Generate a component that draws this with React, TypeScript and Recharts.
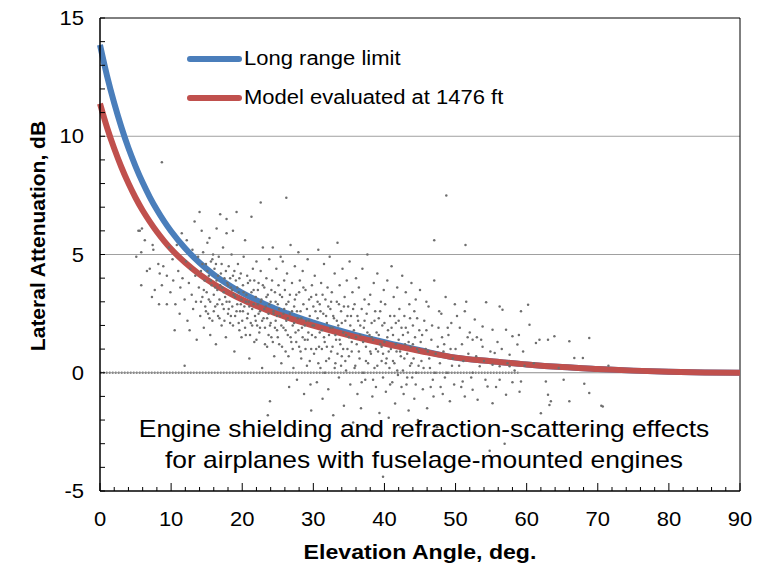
import React from "react";
import { ComposedChart, Line, Scatter, XAxis, YAxis, ReferenceLine } from "recharts";

const FONT = '"Liberation Sans", Arial, Helvetica, sans-serif';

// curves (dB vs elevation angle, deg)
const angles = [0, 1, 2, 3, 4, 5, 6, 7, 8, 9, 10, 12, 14, 16, 18, 20, 22, 24, 26, 28, 30, 33, 36, 40, 45, 50, 55, 60, 65, 70, 75, 80, 85, 90];
const longRangeLimit = [13.86, 12.54, 11.4, 10.39, 9.5, 8.73, 8.04, 7.43, 6.89, 6.41, 5.98, 5.25, 4.65, 4.15, 3.73, 3.38, 3.07, 2.79, 2.55, 2.32, 2.12, 1.84, 1.59, 1.29, 0.95, 0.64, 0.49, 0.35, 0.24, 0.16, 0.09, 0.04, 0.01, 0];
const model1476ft = [11.38, 10.36, 9.48, 8.7, 8.01, 7.4, 6.86, 6.39, 5.96, 5.58, 5.23, 4.65, 4.16, 3.75, 3.4, 3.09, 2.82, 2.59, 2.37, 2.17, 1.99, 1.74, 1.51, 1.23, 0.92, 0.64, 0.49, 0.35, 0.24, 0.16, 0.09, 0.04, 0.01, 0];

// measured points [angle, attenuation], sampled from the cloud
const measured: number[][] = [
  [5.1, 4.9], [5.4, 6.0], [5.6, 6.0], [5.8, 5.1], [5.8, 3.7], [5.9, 6.1], [6.3, 5.6], [6.6, 4.3], [7.0, 4.4], [7.3, 3.2], [7.4, 5.4], [7.5, 5.2], [7.7, 3.5], [8.2, 4.6], [8.3, 2.9], [8.4, 4.2], [8.7, 3.7], [8.7, 8.9], [8.9, 4.5], [9.4, 4.1], [9.4, 2.9], [9.7, 5.3], [9.9, 3.4],
  [10.2, 4.8], [10.3, 3.9], [10.5, 1.8], [10.6, 2.9], [10.8, 5.4], [11.0, 4.3], [11.2, 2.5], [11.3, 3.6], [11.5, 5.9], [11.6, 4.0], [11.9, 0.3], [11.9, 3.1], [12.1, 4.7], [12.2, 5.6], [12.3, 2.2], [12.5, 3.8], [12.6, 1.8], [12.7, 4.4], [12.9, 3.3], [13.0, 5.2], [13.1, 2.7], [13.3, 6.4], [13.4, 4.1], [13.5, 3.0], [13.6, 1.4], [13.8, 4.9], [13.9, 3.6], [14.0, 6.8], [14.1, 2.4], [14.2, 4.3], [14.3, 6.0], [14.4, 3.2], [14.5, 5.1], [14.6, 1.9], [14.7, 3.9], [14.8, 2.8], [14.9, 4.6],
  [15.0, 3.4], [15.1, 5.5], [15.2, 2.5], [15.3, 4.1], [15.4, 5.7], [15.5, 3.0], [15.5, 1.6], [15.6, 4.7], [15.7, 3.7], [15.8, 2.2], [15.9, 5.0], [16.0, 3.3], [16.1, 4.4], [16.2, 2.8], [16.3, 1.2], [16.4, 6.1], [16.4, 3.9], [16.5, 3.5], [16.6, 2.4], [16.7, 4.9], [16.8, 3.1], [16.9, 6.7], [17.0, 4.2], [17.1, 2.0], [17.2, 3.6], [17.3, 5.3], [17.4, 2.7], [17.5, 4.0], [17.6, 3.2], [17.7, 1.5], [17.8, 6.5], [17.8, 5.9], [17.9, 3.8], [18.0, 2.5], [18.1, 4.5], [18.2, 3.0], [18.3, 2.1], [18.4, 3.6], [18.5, 5.0], [18.6, 2.8], [18.7, 6.0], [18.7, 4.1], [18.8, 3.3], [18.9, 0.9], [19.0, 2.4], [19.1, 3.9], [19.2, 6.8], [19.3, 2.9], [19.4, 4.6], [19.5, 3.4], [19.6, 1.8], [19.7, 2.6], [19.8, 4.2], [19.9, 3.1],
  [20.0, 2.2], [20.1, 3.7], [20.2, 4.9], [20.3, 2.8], [20.4, 5.6], [20.5, 1.6], [20.6, 3.3], [20.7, 4.1], [20.8, 2.5], [20.9, 3.0], [21.0, 0.6], [21.1, 3.9], [21.2, 2.1], [21.3, 6.6], [21.4, 2.7], [21.5, 4.4], [21.6, 3.5], [21.7, 1.3], [21.8, 2.4], [21.9, 3.2], [22.0, 4.7], [22.1, 2.0], [22.2, 2.9], [22.3, 3.8], [22.4, 1.7], [22.5, 2.6], [22.6, 7.2], [22.6, 4.3], [22.7, 3.1], [22.8, 0.2], [22.9, 5.3], [23.0, 2.3], [23.1, 3.6], [23.2, 1.9], [23.3, 2.8], [23.4, 4.0], [23.5, 1.1], [23.6, -1.8], [23.6, 3.3], [23.7, 2.5], [23.8, 4.8], [23.9, -1.2], [23.9, 2.0], [24.0, 3.0], [24.1, 1.5], [24.2, 3.9], [24.3, 5.3], [24.4, 2.6], [24.5, 0.7], [24.6, 3.4], [24.7, 2.2], [24.8, 4.4], [24.9, 1.8],
  [25.0, 2.9], [25.1, 3.7], [25.2, 1.2], [25.3, 2.4], [25.4, 4.9], [25.5, 0.4], [25.6, 3.2], [25.7, 4.7], [25.8, 1.9], [25.9, 2.7], [26.0, 3.5], [26.1, 0.9], [26.2, 7.4], [26.2, 2.2], [26.3, 4.2], [26.4, 1.6], [26.5, 3.0], [26.6, -0.6], [26.7, 2.5], [26.8, 5.4], [26.9, 1.3], [27.0, 3.8], [27.1, 2.0], [27.2, 0.2], [27.3, 2.8], [27.4, 4.5], [27.5, 1.7], [27.6, 3.3], [27.7, -0.3], [27.8, 2.3], [27.9, 5.1], [28.0, 1.1], [28.1, 3.9], [28.2, 2.6], [28.3, 0.6], [28.4, 1.9], [28.5, 4.3], [28.6, 2.9], [28.7, -0.9], [28.8, 1.4], [28.9, 3.5], [29.0, 2.2], [29.1, 0.3], [29.2, 4.8], [29.3, 1.7], [29.4, 3.1], [29.5, 2.4], [29.6, -0.5], [29.7, -1.6], [29.7, 1.0], [29.8, 3.7], [29.9, 2.0],
  [30.0, 2.8], [30.1, 0.8], [30.2, 4.1], [30.3, 1.5], [30.4, 3.3], [30.5, -0.4], [30.6, 2.3], [30.7, 5.2], [30.8, 1.1], [30.9, 2.9], [31.0, 0.2], [31.1, 3.8], [31.2, 1.8], [31.3, -1.1], [31.4, 2.5], [31.5, 4.6], [31.6, 1.3], [31.7, 3.1], [31.8, 0.5], [31.9, 2.1], [32.0, 3.6], [32.1, -0.7], [32.2, 1.6], [32.3, 4.9], [32.4, 2.7], [32.5, 0.9], [32.6, 3.4], [32.7, 1.9], [32.8, -1.8], [32.9, 2.3], [33.0, 4.2], [33.1, 0.4], [33.2, 1.4], [33.3, 3.0], [33.4, 5.5], [33.5, 2.0], [33.6, -0.2], [33.7, 3.7], [33.8, 1.2], [33.9, 2.6], [34.0, 0.7], [34.1, 4.4], [34.2, 1.7], [34.3, -1.4], [34.4, 3.2], [34.5, 2.2], [34.6, 0.1], [34.7, 3.9], [34.8, 1.0], [34.9, 2.8],
  [35.0, 1.5], [35.1, 4.7], [35.2, -0.5], [35.3, 2.4], [35.4, 0.9], [35.5, 3.4], [35.6, -2.1], [35.7, 1.8], [35.8, 2.9], [35.9, 0.3], [36.0, 4.0], [36.1, 1.2], [36.2, -0.9], [36.3, 2.2], [36.4, 3.6], [36.5, 0.6], [36.6, 1.6], [36.7, -1.5], [36.8, 2.7], [36.9, 4.4], [37.0, 0.0], [37.1, 1.9], [37.2, 3.1], [37.3, -0.3], [37.4, 1.1], [37.5, 2.5], [37.6, 5.0], [37.7, 0.4], [37.8, -2.4], [37.9, 1.6], [38.0, 3.3], [38.1, 0.8], [38.2, 2.1], [38.3, -1.0], [38.4, 1.4], [38.5, 3.8], [38.6, 0.2], [38.7, 2.6], [38.8, -0.6], [38.9, 1.7], [39.0, 4.2], [39.1, 0.9], [39.2, 2.3], [39.3, -1.7], [39.4, 1.2], [39.5, 3.0], [39.6, 0.5], [39.7, 2.0], [39.8, -4.4], [39.8, -0.2], [39.9, 3.5],
  [40.0, 1.3], [40.1, 2.9], [40.2, -0.8], [40.3, 0.6], [40.4, 3.9], [40.5, 1.8], [40.6, -1.9], [40.7, 0.2], [40.8, 2.4], [40.9, 1.0], [41.0, 4.5], [41.1, -0.4], [41.2, 1.6], [41.3, 3.2], [41.4, 0.4], [41.5, -1.3], [41.6, 2.1], [41.7, 0.9], [41.8, 3.6], [41.9, -0.1], [42.0, 1.4], [42.1, 2.7], [42.2, -2.3], [42.3, 0.7], [42.4, 1.9], [42.5, 4.1], [42.6, 0.1], [42.7, -0.9], [42.8, 2.4], [42.9, 1.2], [43.0, 3.4], [43.1, -0.5], [43.2, 0.8], [43.3, 1.7], [43.4, -1.6], [43.5, 2.9], [43.6, 0.3], [43.7, 1.1], [43.8, 3.8], [43.9, -0.2], [44.0, 2.0], [44.1, 0.6], [44.2, -1.1], [44.3, 1.5], [44.4, 3.1], [44.5, 0.0], [44.6, 2.3], [44.7, -2.0], [44.8, 0.9], [44.9, 1.8],
  [45.0, 3.5], [45.2, 0.5], [45.3, 1.6], [45.4, -0.7], [45.6, 2.2], [45.8, 1.0], [45.9, 3.0], [46.0, -1.5], [46.1, 0.9], [46.2, 2.8], [46.4, 0.2], [46.5, -0.6], [46.6, 1.4], [46.8, -0.3], [46.9, -1.0], [47.0, 5.6], [47.0, 3.9], [47.2, 0.8], [47.4, -2.3], [47.6, 1.9], [47.7, 2.6], [47.8, 0.4], [48.0, 2.5], [48.1, 1.5], [48.2, -0.9], [48.4, 1.2], [48.5, -0.2], [48.6, 3.2], [48.7, 7.5], [48.8, 0.0], [49.0, 1.6], [49.2, -1.2], [49.3, 1.0], [49.4, 2.1], [49.6, 0.6], [49.8, -0.5], [49.9, 2.9],
  [50.2, 2.4], [50.5, 0.3], [50.8, -0.6], [50.9, 1.2], [51.0, -0.37], [51.3, -1.0], [51.3, 2.6], [51.4, 5.4], [51.5, 3.0], [51.8, 0.8], [52.0, 1.7], [52.4, 1.4], [52.4, 0.0], [52.4, -0.72], [52.7, 2.25], [53.0, 1.5], [53.1, -1.14], [53.4, 0.27], [53.8, 1.1], [53.8, 1.96], [54.0, 0.5], [54.3, 2.98], [54.5, -0.58], [54.8, -3.3], [55.2, 1.82], [55.2, 0.34], [55.2, -1.29], [55.5, 0.83], [55.9, 1.3], [56.2, 2.8], [56.2, 0.27], [56.2, -0.3], [56.6, 2.66], [56.9, -3.0], [57.1, 1.82], [57.1, -0.93], [57.6, 0.76], [57.6, 0.27], [58.0, 1.54], [58.3, 0.1], [58.7, 1.19], [59.0, -0.8], [59.2, 2.6], [59.2, -0.37], [59.5, 0.9],
  [60.2, 2.88], [60.4, 2.03], [61.0, 0.4], [61.3, 1.26], [61.8, 1.4], [62.0, -1.71], [62.7, -0.37], [63.0, 1.4], [63.0, -0.93], [63.2, -1.36], [63.4, -1.2], [63.9, 1.54], [64.5, 0.2], [65.2, -0.3], [66.0, 1.33], [66.0, -1.2], [66.7, 0.62], [67.9, 0.62], [68.1, -0.47], [68.8, 1.47], [68.8, -0.86], [70.5, -1.4], [70.7, -1.43], [71.5, 0.3],
];

// the dense core of the cloud
const measuredCore: number[][] = [
  [14.2, 3.0], [14.4, 4.6], [14.6, 3.5], [14.9, 2.6], [15.1, 4.3], [15.3, 3.1], [15.4, 2.3], [15.6, 3.9], [15.8, 4.8], [16.0, 2.6], [16.2, 3.6], [16.3, 4.6], [16.5, 2.9], [16.6, 4.1], [16.8, 2.3], [16.9, 3.7], [17.1, 4.6], [17.2, 2.9], [17.4, 3.4], [17.5, 2.2], [17.7, 4.3], [17.8, 3.0], [18.0, 3.7], [18.1, 2.7], [18.3, 4.0], [18.4, 2.4], [18.6, 3.5], [18.7, 2.0], [18.9, 4.3], [19.0, 3.2], [19.2, 2.6], [19.3, 3.6], [19.5, 2.1], [19.6, 4.0], [19.8, 2.9], [19.9, 1.5],
  [20.1, 2.6], [20.2, 3.4], [20.4, 1.9], [20.5, 3.0], [20.7, 2.3], [20.8, 3.8], [21.0, 2.8], [21.1, 1.6], [21.3, 3.4], [21.4, 2.0], [21.6, 2.9], [21.7, 3.9], [21.9, 2.2], [22.0, 1.4], [22.2, 3.5], [22.3, 2.5], [22.5, 1.9], [22.6, 3.0], [22.8, 2.2], [22.9, 3.7], [23.1, 2.7], [23.2, 1.2], [23.4, 3.2], [23.5, 2.3], [23.7, 1.6], [23.8, 2.9], [24.0, 2.1], [24.1, 3.5], [24.3, 1.3], [24.4, 2.5], [24.6, 1.9], [24.7, 3.0], [24.9, 2.4],
  [25.0, 1.5], [25.2, 2.7], [25.3, 3.3], [25.5, 2.0], [25.6, 1.1], [25.8, 2.5], [25.9, 3.9], [26.1, 1.8], [26.2, 2.9], [26.4, 2.3], [26.5, 0.7], [26.7, 3.3], [26.8, 1.5], [27.0, 2.6], [27.1, 1.0], [27.3, 2.1], [27.4, 3.1], [27.6, 1.3], [27.7, 2.6], [27.9, 1.8], [28.0, 3.4], [28.2, 0.9], [28.3, 2.3], [28.5, 1.5], [28.6, 3.6], [28.8, 2.0], [28.9, 1.0], [29.1, 2.7], [29.2, 1.4], [29.4, 2.2], [29.5, 0.5], [29.7, 3.2], [29.8, 1.6],
  [30.1, 2.0], [30.3, 2.6], [30.4, 1.0], [30.6, 3.0], [30.7, 0.4], [30.9, 1.7], [31.0, 2.6], [31.2, 1.0], [31.3, 3.3], [31.5, 1.5], [31.6, 0.0], [31.8, 2.4], [31.9, 1.1], [32.1, 2.8], [32.2, 0.6], [32.4, 1.9], [32.5, 3.0], [32.7, 1.1], [32.8, 2.4], [33.0, 0.2], [33.1, 1.6], [33.3, 2.2], [33.4, 0.8], [33.6, 2.9], [33.7, 1.4], [33.9, 0.3], [34.0, 2.1], [34.2, 1.0], [34.3, 2.8], [34.5, 0.5], [34.6, 1.6], [34.8, 2.4],
  [35.0, 0.7], [35.2, 2.0], [35.4, 1.3], [35.6, 2.7], [35.8, 0.2], [36.0, 1.5], [36.2, 2.4], [36.4, 0.9], [36.6, 2.0], [36.8, -0.4], [37.0, 1.3], [37.2, 2.2], [37.4, 0.5], [37.6, 1.7], [37.8, 2.9], [38.0, 0.9], [38.2, 1.5], [38.4, -0.3], [38.6, 2.2], [38.8, 1.0], [39.0, 0.3], [39.2, 1.6], [39.4, 2.6], [39.6, 1.1], [39.8, 0.8],
  [40.0, 2.1], [40.2, 0.4], [40.4, 1.5], [40.6, 0.9], [40.8, -0.5], [41.0, 1.9], [41.2, 0.5], [41.4, 2.4], [41.6, 1.2], [41.8, 0.1], [42.0, 2.2], [42.2, 0.9], [42.4, -0.6], [42.6, 1.6], [42.8, 0.6], [43.0, 1.9], [43.2, -0.2], [43.4, 1.3], [43.6, 2.3], [43.8, 0.4], [44.0, 1.2], [44.2, 2.6], [44.4, -0.5], [44.6, 1.0], [44.8, 0.3],
  [45.1, 1.3], [45.5, 0.2], [45.9, 1.8], [46.3, 0.6], [46.7, 2.0], [47.1, 0.0], [47.5, 1.1], [47.9, -0.6], [48.3, 0.9], [48.9, 1.9], [49.5, 0.3], [50.0, 1.0], [50.6, 1.9], [51.1, 0.5], [51.7, 1.5], [52.2, -0.2], [52.9, 0.7], [53.6, 1.4], [54.2, -0.3], [54.9, 0.9], [55.7, -0.6], [56.5, 1.0], [57.3, 0.4], [58.0, -0.4], [58.9, 1.6], [59.7, 0.3],
];

const xTicks = [0, 2, 4, 6, 8, 10, 12, 14, 16, 18, 20, 22, 24, 26, 28, 30, 32, 34, 36, 38, 40, 42, 44, 46, 48, 50, 52, 54, 56, 58, 60, 62, 64, 66, 68, 70, 72, 74, 76, 78, 80, 82, 84, 86, 88, 90];
const yTicks = [-5, -4, -3, -2, -1, 0, 1, 2, 3, 4, 5, 6, 7, 8, 9, 10, 11, 12, 13, 14, 15];

const curveData = angles.map((a, i) => ({ x: a, longRange: longRangeLimit[i], model: model1476ft[i] }));
const pointData = [...measured, ...measuredCore].map(([x, y]) => ({ x, y }));

const BLUE = "#4a7ebb";
const RED = "#c0504d";

function XTick(props: any) {
  const { x, y, payload } = props;
  const v = payload.value;
  const major = v % 10 === 0;
  return (
    <g>
      <line x1={x} x2={x} y1={y} y2={y - (major ? 8 : 4)} stroke="#000" />
      {major && (
        <text transform={`translate(${x},${y + 28}) scale(1.1,1)`} textAnchor="middle" dy="0.35em" fontSize={20} fontFamily={FONT} fill="#000">
          {v}
        </text>
      )}
    </g>
  );
}

function YTick(props: any) {
  const { x, y, payload } = props;
  const v = payload.value;
  return (
    <g>
      <line x1={x} x2={x + 5} y1={y} y2={y} stroke="#000" />
      {v % 5 === 0 && (
        <text transform={`translate(${x - 16},${y}) scale(1.1,1)`} textAnchor="end" dy="0.35em" fontSize={20} fontFamily={FONT} fill="#000">
          {v}
        </text>
      )}
    </g>
  );
}

const dot = (p: any) => <circle cx={p.cx} cy={p.cy} r={1.25} fill="#6e6e6e" />;

const txt: React.CSSProperties = { position: "absolute", fontFamily: FONT, color: "#000", whiteSpace: "nowrap" };

export default function App() {
  return (
    <div style={{ position: "absolute", left: 0, top: 0, width: 772, height: 565, background: "#fff" }}>
      <ComposedChart width={772} height={565} data={curveData} margin={{ top: 18, right: 32, bottom: 34, left: 40 }}>
        <XAxis dataKey="x" type="number" domain={[0, 90]} ticks={xTicks} interval={0} tickSize={0} tickMargin={0} tick={<XTick />} axisLine={{ stroke: "#000", strokeWidth: 1.5 }} tickLine={false} height={40} />
        <YAxis type="number" domain={[-5, 15]} ticks={yTicks} interval={0} tickSize={0} tickMargin={0} tick={<YTick />} axisLine={{ stroke: "#000", strokeWidth: 1.5 }} tickLine={false} width={60} />
        <ReferenceLine y={5} stroke="#a0a0a0" />
        <ReferenceLine y={10} stroke="#a0a0a0" />
        <ReferenceLine y={0} stroke="#8c8c8c" />
        <ReferenceLine segment={[{ x: 0, y: 0 }, { x: 59, y: 0 }]} stroke="#8c8c8c" strokeWidth={2.5} strokeDasharray="1.5 1.5" />
        <ReferenceLine y={15} stroke="#000" />
        <ReferenceLine x={90} stroke="#000" />
        <Scatter data={pointData} dataKey="y" shape={dot} isAnimationActive={false} />
        <Line dataKey="longRange" type="monotone" stroke={BLUE} strokeWidth={6} dot={false} activeDot={false} isAnimationActive={false} />
        <Line dataKey="model" type="monotone" stroke={RED} strokeWidth={6} dot={false} activeDot={false} isAnimationActive={false} />
      </ComposedChart>

      {/* legend */}
      <div style={{ position: "absolute", left: 187, top: 56, width: 55, height: 6, borderRadius: 3, background: BLUE }} />
      <div style={{ position: "absolute", left: 187, top: 95, width: 55, height: 6, borderRadius: 3, background: RED }} />
      <div style={{ ...txt, left: 244, top: 48, fontSize: 20, lineHeight: "20px", transform: "scaleX(1.1)", transformOrigin: "left top" }}>Long range limit</div>
      <div style={{ ...txt, left: 244, top: 87, fontSize: 20, lineHeight: "20px", transform: "scaleX(1.1)", transformOrigin: "left top" }}>Model evaluated at 1476 ft</div>

      {/* annotation */}
      <div style={{ ...txt, left: 123.5, top: 413, width: 600, textAlign: "center", fontSize: 24, lineHeight: "31px", transform: "scaleX(1.1)", transformOrigin: "center top" }}>
        Engine shielding and refraction-scattering effects
        <br />
        for airplanes with fuselage-mounted engines
      </div>

      {/* axis titles */}
      <div style={{ ...txt, left: 120, top: 540, width: 600, textAlign: "center", fontSize: 21, fontWeight: 700, lineHeight: "24px", transform: "scaleX(1.1)", transformOrigin: "center top" }}>
        Elevation Angle, deg.
      </div>
      <div style={{ ...txt, left: -112, top: 224, width: 300, height: 24, textAlign: "center", fontSize: 21, fontWeight: 700, lineHeight: "24px", transform: "rotate(-90deg)", transformOrigin: "center center" }}>
        Lateral Attenuation, dB
      </div>
    </div>
  );
}
